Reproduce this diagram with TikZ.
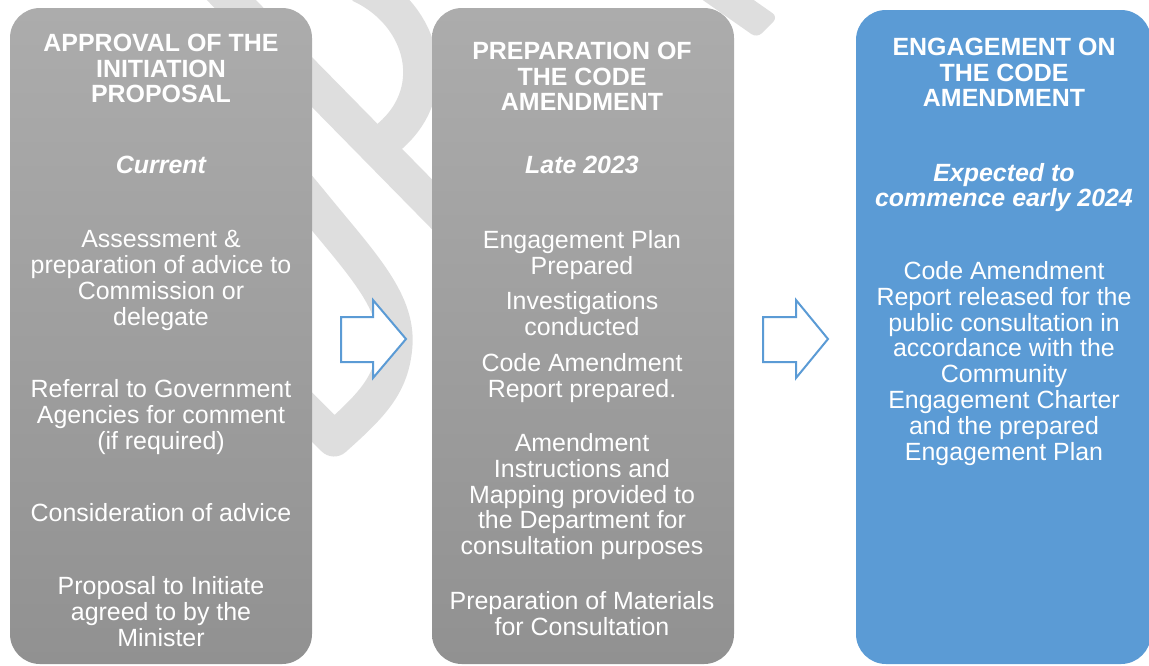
\documentclass[tikz,border=0pt]{standalone}
\usepackage{fontspec}
\setmainfont{Liberation Sans}
\definecolor{boxtop}{RGB}{172,172,172}
\definecolor{boxbot}{RGB}{145,145,145}
\definecolor{boxblue}{RGB}{91,155,213}
\definecolor{arrowblue}{RGB}{91,155,213}
\definecolor{wmgray}{RGB}{222,222,222}
\newcommand\bodyfont{\fontsize{18.7}{19.4}\selectfont}
\newcommand\headfont{\fontsize{18.7}{19.1}\selectfont\bfseries}
\newcommand\whenfont{\fontsize{18.7}{19.1}\selectfont\bfseries\itshape}
\tikzset{
  wm/.style={draw=wmgray, line width=26.25pt, line join=round},
  stage/.style={rounded corners=22.5pt, minimum width=226.5pt, minimum height=492pt, inner sep=0pt},
  greystage/.style={stage, top color=boxtop, bottom color=boxbot},
  bluestage/.style={stage, fill=boxblue},
  txt/.style={text=white, align=center, anchor=north, inner sep=0pt, font=\bodyfont},
  head/.style={txt, font=\headfont},
  when/.style={txt, font=\whenfont},
  blockarrow/.style={draw=arrowblue, line width=1.5pt, fill=white, line join=miter}
}
\begin{document}
\begin{tikzpicture}[x=0.75pt,y=-0.75pt]
\useasboundingbox (0,0) rectangle (1149,665);
% watermark fragments
\begin{scope}
\clip (0,0) rectangle (1149,665);
\draw[wm] (195,-37) -- (470,243);
\draw[wm] (360,-15) .. controls (425,15) and (445,95) .. (384,141);
\draw[wm] (250,128) -- (312,203) .. controls (360,262) and (398,300) .. (395,345) .. controls (392,385) and (372,405) .. (334,439) -- (262,367);
\fill[wmgray, rounded corners=5pt] (457,-172) -- (757,38) -- (778,17) -- (478,-193) -- cycle;
\end{scope}
% stages
\node[greystage] (s1) at (161,336) {};
\node[greystage] (s2) at (583,336) {};
\node[bluestage, minimum width=221.25pt, minimum height=490.5pt] (s3) at (1003.5,337) {};
% block arrows
\draw[blockarrow] (341,317) -- (373,317) -- (373,300) -- (406,339) -- (373,378) -- (373,362) -- (341,362) -- cycle;
\draw[blockarrow] (763,317) -- (796,317) -- (796,300) -- (828,339) -- (796,378) -- (796,362) -- (763,362) -- cycle;
% stage 1 texts
\node[head] (h1) at (161,34) {APPROVAL OF THE\\INITIATION\\PROPOSAL};
\node[when] (w1) at (161,156) {Current};
\node[txt] (a1) at (161,230) {Assessment \&\\preparation of advice to\\Commission or\\delegate};
\node[txt] (a2) at (161,379) {Referral to Government\\Agencies for comment\\(if required)};
\node[txt] (a3) at (161,503) {Consideration of advice};
\node[txt] (a4) at (161,576) {Proposal to Initiate\\agreed to by the\\Minister};
% stage 2 texts
\node[head] (h2) at (582,42) {PREPARATION OF\\THE CODE\\AMENDMENT};
\node[when] (w2) at (582,156) {Late 2023};
\node[txt] (b1) at (582,230) {Engagement Plan\\Prepared};
\node[txt] (b2) at (582,291) {Investigations\\conducted};
\node[txt] (b3) at (582,353) {Code Amendment\\Report prepared.};
\node[txt] (b4) at (582,433) {Amendment\\Instructions and\\Mapping provided to\\the Department for\\consultation purposes};
\node[txt] (b5) at (582,591) {Preparation of Materials\\for Consultation};
% stage 3 texts
\node[head] (h3) at (1004,38) {ENGAGEMENT ON\\THE CODE\\AMENDMENT};
\node[when] (w3) at (1004,163) {Expected to\\commence early 2024};
\node[txt] (c1) at (1004,261) {Code Amendment\\Report released for the\\public consultation in\\accordance with the\\Community\\Engagement Charter\\and the prepared\\Engagement Plan};
\end{tikzpicture}
\end{document}
